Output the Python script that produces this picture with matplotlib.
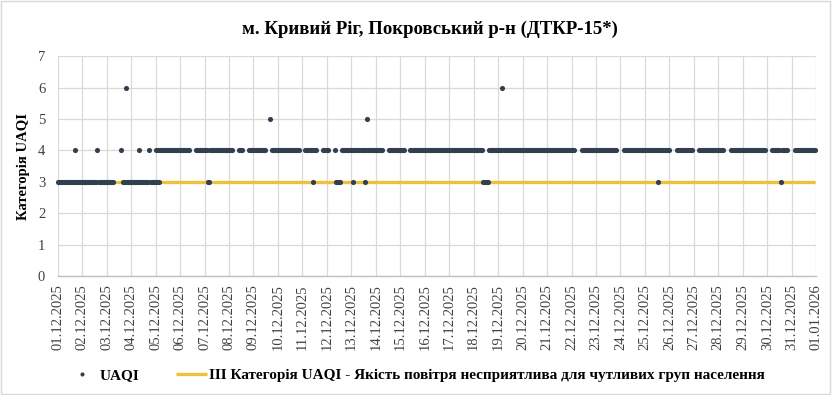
import numpy as np
import pandas as pd
import matplotlib
matplotlib.use("Agg")
import matplotlib.pyplot as plt
import matplotlib.dates as mdates
from matplotlib.patches import Rectangle

# ---- data (hourly UAQI category, one 24-char string per day; '-' = no data) ----
START = "2025-12-01"
END = "2026-01-01"
DAY_VALUES = [
    "333333333333333334333333",  # 01.12
    "333333333333333433333333",  # 02.12
    "3333333-------4-33363333",  # 03.12
    "333333334333333333433333",  # 04.12
    "434344444444444444444444",  # 05.12
    "4444444444------44444444",  # 06.12
    "444334444444444444444444",  # 07.12
    "4444------4444------4444",  # 08.12
    "444444444444----5-444444",  # 09.12
    "4444444444444444444444--",  # 10.12
    "---44444443444------444",   # 11.12 (padded below)
    "44------433333-444444444",  # 12.12
    "443444444444434544444444",  # 13.12
    "4444444------44444444444",  # 14.12
    "44444-----44444444444444",  # 15.12
    "444444444444444444444444",  # 16.12
    "444444444444444444444444",  # 17.12
    "444444444333333444444444",  # 18.12
    "444464444444444444444444",  # 19.12
    "444444444444444444444444",  # 20.12
    "444444444444444444444444",  # 21.12
    "444-------44444444444444",  # 22.12
    "444444444444444444444---",  # 23.12
    "---444444444444444444444",  # 24.12
    "444444444444434444444444",  # 25.12
    "4------4444444444444444-",  # 26.12
    "-----4444444444444444444",  # 27.12
    "444444------444444444444",  # 28.12
    "44444444444444444444444-",  # 29.12
    "-----444444443444444---",   # 30.12 (padded below)
    "---444444444444444444444",  # 31.12
]
THRESHOLD = 3
Y_TICKS = [0, 1, 2, 3, 4, 5, 6, 7]
TITLE = "м. Кривий Ріг, Покровський р-н (ДТКР-15*)"
Y_LABEL = "Категорія UAQI"
SERIES_LABEL = "UAQI"
THRESHOLD_LABEL = "ІІІ Категорія UAQI - Якість повітря несприятлива для чутливих груп населення"

# ---- build series ----
chars = "".join(s.ljust(24, "-") for s in DAY_VALUES)
times = pd.date_range(START, periods=len(chars), freq="h")
vals = np.array([np.nan if c == "-" else float(c) for c in chars])
thr = np.full(len(times), float(THRESHOLD))

plt.rcParams["font.family"] = ["Liberation Serif", "DejaVu Serif"]

fig = plt.figure(figsize=(8.32, 3.95), dpi=100)
ax = fig.add_axes([0.0694, 0.3013, 0.9116, 0.5567])

dot_color = "#323F4F"
line_color = "#EFC13A"
grid_color = "#D9D9D9"

ax.plot(times, thr, color=line_color, lw=2.4, zorder=2, label=THRESHOLD_LABEL,
        solid_capstyle="butt")
ax.plot(times, vals, linestyle="none", marker="o", ms=3.7, color=dot_color,
        markeredgewidth=0, zorder=3, clip_on=False, label=SERIES_LABEL)

ax.set_xlim(pd.Timestamp(START), pd.Timestamp(END))
ax.set_ylim(Y_TICKS[0], Y_TICKS[-1])
ax.set_yticks(Y_TICKS)
ax.xaxis.set_major_locator(mdates.DayLocator())
ax.xaxis.set_major_formatter(mdates.DateFormatter("%d.%m.%Y"))

ax.grid(True, color=grid_color, lw=0.9, zorder=0)
ax.set_axisbelow(True)
for s in ["top", "right", "left"]:
    ax.spines[s].set_visible(False)
ax.spines["bottom"].set_color("#BFBFBF")
ax.spines["bottom"].set_linewidth(1.0)
ax.tick_params(axis="both", length=0, labelsize=10.5, labelcolor="#404040")
ax.tick_params(axis="x", pad=6)
ax.tick_params(axis="y", pad=9)
for lab in ax.get_xticklabels():
    lab.set_rotation(90)

ax.set_ylabel(Y_LABEL, fontsize=10.5, fontweight="bold", color="#000000", labelpad=6)
fig.text(0.517, 0.925, TITLE, ha="center", va="center", fontsize=13.5,
         fontweight="bold", color="#000000")

handles, labels = ax.get_legend_handles_labels()
leg = fig.legend([handles[1], handles[0]], [labels[1], labels[0]],
                 loc="center", bbox_to_anchor=(0.500, 0.05), ncol=2, frameon=False,
                 prop={"family": ["Liberation Serif", "DejaVu Serif"], "weight": "bold", "size": 11},
                 handlelength=2.0, columnspacing=2.4, handletextpad=0.15, markerscale=0.8)
for t in leg.get_texts():
    t.set_color("#000000")

fig.patches.append(Rectangle((0.001, 0.002), 0.997, 0.995, transform=fig.transFigure,
                             fill=False, edgecolor="#D9D9D9", lw=1.0))

fig.savefig("out.png", dpi=100)
